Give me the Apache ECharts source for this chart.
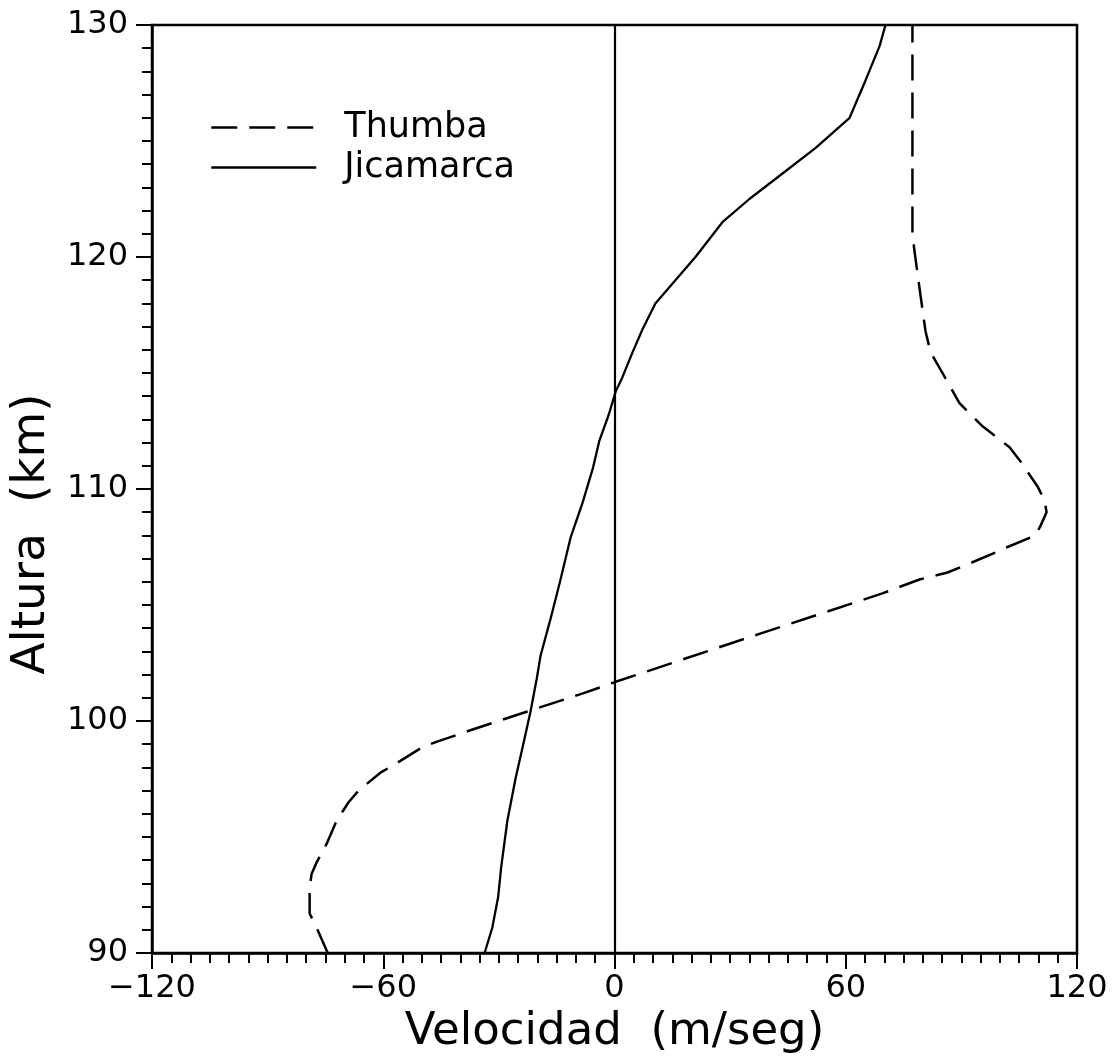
<!DOCTYPE html>
<html>
<head>
<meta charset="utf-8">
<script src="https://cdn.jsdelivr.net/npm/echarts@6/dist/echarts.min.js"></script>
<style>
html,body{margin:0;padding:0;background:#fff;}
#chart{width:1117px;height:1062px;}
</style>
</head>
<body>
<div id="chart"></div>
<script>
// Velocity (m/seg) vs altitude (km)
const thumbaVel = [-74.4,-77.3,-79.1,-79.1,-78.6,-77.3,-74.7,-72.1,-69.0,-66.4,-60.5,-57.3,-49.6,-46.2,-37.4,-22.8,-8.0,0.5,38.4,69.5,79.1,86.4,90.8,98.0,102.0,109.2,110.5,112.1,111.6,109.8,105.3,102.5,95.5,89.5,85.1,82.0,80.7,79.1,77.8,77.3,77.3];
const thumbaAlt = [90.0,91.1,91.7,92.8,93.4,93.9,94.7,95.7,96.5,97.0,97.8,98.1,98.9,99.1,99.6,100.4,101.2,101.7,103.8,105.5,106.1,106.4,106.7,107.2,107.5,108.0,108.4,109.0,109.5,110.1,111.2,111.8,112.7,113.7,115.0,115.9,116.8,118.7,120.3,121.0,130.0];
const jicaVel = [-33.7,-31.7,-30.2,-29.4,-27.8,-25.7,-23.4,-21.8,-20.2,-19.2,-16.6,-14.0,-11.4,-8.3,-5.6,-3.9,-1.5,0.3,2.0,4.7,7.3,10.6,15.8,21.0,28.0,35.0,43.6,52.2,61.0,65.1,68.8,70.3];
const jicaAlt = [90.0,91.1,92.4,93.7,95.7,97.5,99.2,100.4,101.8,102.8,104.4,106.1,107.9,109.4,110.9,112.1,113.2,114.2,114.8,115.9,116.9,118.0,119.0,120.0,121.5,122.5,123.6,124.7,126.0,127.6,129.1,130.0];
const seriesNames = ['Thumba','Jicamarca'];
const xTicks = [-120,-60,0,60,120];
const yTicks = [90,100,110,120,130];

const FONT = 'DejaVu Sans';
const pair = (xs, ys) => xs.map((v, i) => [v, ys[i]]);
const minusFmt = v => String(v).replace('-', '\u2212');

const chart = echarts.init(document.getElementById('chart'), null, {renderer:'canvas'});
chart.setOption({
  animation:false,
  backgroundColor:'#fff',
  grid:{left:152,right:40,top:25,bottom:109,show:true,borderColor:'#000',borderWidth:2.5,backgroundColor:'transparent'},
  legend:{
    show:true,orient:'vertical',left:210,top:110,padding:0,itemWidth:105,itemHeight:14,itemGap:5,
    itemStyle:{color:'rgba(0,0,0,0)',borderWidth:0,opacity:0},
    lineStyle:{color:'#000',width:2.5},
    textStyle:{fontFamily:FONT,fontSize:35,lineHeight:35,color:'#000',padding:[0,0,0,23]},
    data:seriesNames
  },
  xAxis:{
    type:'value',min:xTicks[0],max:xTicks[xTicks.length-1],interval:60,
    axisLine:{show:true,onZero:false,lineStyle:{color:'#000',width:2.5}},
    axisTick:{show:true,inside:false,length:16,lineStyle:{color:'#000',width:2}},
    minorTick:{show:true,splitNumber:12,length:10,lineStyle:{color:'#000',width:2}},
    splitLine:{show:false},
    axisLabel:{fontFamily:FONT,fontSize:32,color:'#000',margin:20,formatter:minusFmt},
    name:'Velocidad  (m/seg)',nameLocation:'middle',nameGap:52,
    nameTextStyle:{fontFamily:FONT,fontSize:45,color:'#000',verticalAlign:'top'}
  },
  yAxis:{
    type:'value',min:yTicks[0],max:yTicks[yTicks.length-1],interval:10,
    axisLine:{show:true,onZero:false,lineStyle:{color:'#000',width:2.5}},
    axisTick:{show:true,inside:false,length:16,lineStyle:{color:'#000',width:2}},
    minorTick:{show:true,splitNumber:10,length:10,lineStyle:{color:'#000',width:2}},
    splitLine:{show:false},
    axisLabel:{fontFamily:FONT,fontSize:32,color:'#000',margin:24},
    name:'Altura  (km)',nameLocation:'middle',nameGap:97,nameRotate:90,
    nameTextStyle:{fontFamily:FONT,fontSize:47,color:'#000',padding:[0,90,0,0]}
  },
  series:[
    {
      name:seriesNames[0],type:'line',data:pair(thumbaVel,thumbaAlt),
      symbol:'none',showSymbol:false,smooth:false,clip:true,
      lineStyle:{color:'#000',width:2.5,type:[26,12]},
      itemStyle:{color:'#000'}
    },
    {
      name:seriesNames[1],type:'line',data:pair(jicaVel,jicaAlt),
      symbol:'none',showSymbol:false,smooth:false,clip:true,
      lineStyle:{color:'#000',width:2.3,type:'solid'},
      itemStyle:{color:'#000'},
      markLine:{
        silent:true,symbol:['none','none'],label:{show:false},
        lineStyle:{color:'#000',width:2.2,type:'solid'},
        data:[{xAxis:0}]
      }
    }
  ]
});
</script>
</body>
</html>
